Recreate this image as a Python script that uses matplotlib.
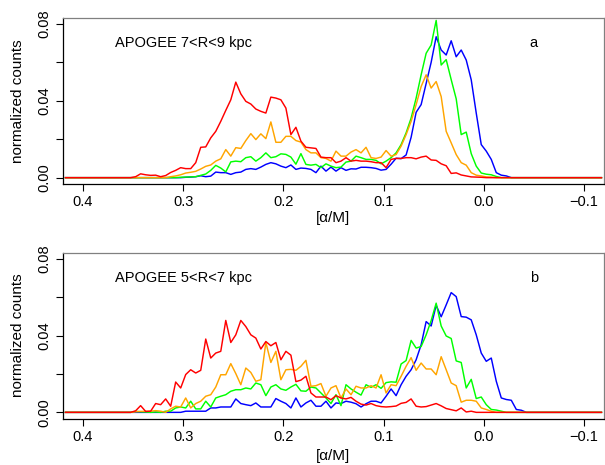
import numpy as np
import matplotlib
matplotlib.use("Agg")
import matplotlib.pyplot as plt

plt.rcParams['font.family'] = ['Liberation Sans', 'DejaVu Sans']

# bin centres of the [alpha/M] histograms, 0.005 wide
alpha = np.round(0.3975 - 0.005 * np.arange(-4, 104), 4)
first_bin = 14   # values below start at alpha = 0.3475

# ---- panel a : APOGEE 7<R<9 kpc
top_red = [0.0005, 0.0020, 0.0015, 0.0012, 0.0013, 0.0005, 0.0011, 0.0027, 0.0038, 0.0052,
           0.0047, 0.0047, 0.0078, 0.0158, 0.0160, 0.0207, 0.0241, 0.0293, 0.0350, 0.0405,
           0.0497, 0.0436, 0.0397, 0.0383, 0.0357, 0.0345, 0.0336, 0.0419, 0.0414, 0.0405,
           0.0362, 0.0224, 0.0262, 0.0190, 0.0158, 0.0155, 0.0152, 0.0107, 0.0104, 0.0104,
           0.0078, 0.0086, 0.0104, 0.0086, 0.0090, 0.0086, 0.0086, 0.0083, 0.0078, 0.0078,
           0.0052, 0.0095, 0.0100, 0.0100, 0.0104, 0.0104, 0.0098, 0.0107, 0.0112, 0.0092,
           0.0090, 0.0072, 0.0062, 0.0022, 0.0025, 0.0014, 0.0009, 0.0004, 0.0003, 0.0002,
           0, 0, 0, 0, 0, 0, 0, 0, 0, 0]
top_orange = [0, 0, 0, 0, 0, 0, 0, 0.0005, 0.0009, 0.0015,
              0.0024, 0.0028, 0.0033, 0.0045, 0.0059, 0.0066, 0.0086, 0.0098, 0.0146, 0.0112,
              0.0156, 0.0152, 0.0193, 0.0229, 0.0198, 0.0228, 0.0203, 0.0290, 0.0184, 0.0184,
              0.0215, 0.0215, 0.0193, 0.0185, 0.0146, 0.0129, 0.0129, 0.0104, 0.0100, 0.0086,
              0.0138, 0.0112, 0.0112, 0.0133, 0.0146, 0.0129, 0.0158, 0.0104, 0.0100, 0.0107,
              0.0141, 0.0112, 0.0120, 0.0164, 0.0224, 0.0293, 0.0380, 0.0474, 0.0535, 0.0466,
              0.0500, 0.0422, 0.0241, 0.0181, 0.0120, 0.0078, 0.0065, 0.0026, 0.0013, 0.0009,
              0.0004, 0.0003, 0, 0, 0, 0, 0, 0, 0, 0]
top_green = [0, 0, 0, 0, 0, 0, 0, 0, 0, 0.0002,
             0.0003, 0.0004, 0.0005, 0.0012, 0.0019, 0.0038, 0.0064, 0.0050, 0.0030, 0.0082,
             0.0086, 0.0083, 0.0104, 0.0109, 0.0086, 0.0104, 0.0129, 0.0104, 0.0109, 0.0124,
             0.0121, 0.0107, 0.0070, 0.0125, 0.0069, 0.0065, 0.0069, 0.0052, 0.0072, 0.0060,
             0.0052, 0.0055, 0.0081, 0.0086, 0.0112, 0.0104, 0.0095, 0.0095, 0.0090, 0.0072,
             0.0086, 0.0104, 0.0129, 0.0172, 0.0233, 0.0310, 0.0414, 0.0535, 0.0647, 0.0690,
             0.0818, 0.0586, 0.0614, 0.0510, 0.0410, 0.0224, 0.0237, 0.0125, 0.0060, 0.0024,
             0.0018, 0.0015, 0.0006, 0, 0, 0, 0, 0, 0, 0]
top_blue = [0, 0, 0, 0, 0, 0, 0, 0, 0, 0,
            0.0002, 0.0003, 0.0005, 0.0010, 0.0005, 0.0008, 0.0029, 0.0026, 0.0026, 0.0017,
            0.0026, 0.0029, 0.0043, 0.0047, 0.0043, 0.0055, 0.0069, 0.0078, 0.0072, 0.0060,
            0.0052, 0.0066, 0.0043, 0.0050, 0.0048, 0.0043, 0.0026, 0.0060, 0.0034, 0.0055,
            0.0034, 0.0052, 0.0038, 0.0046, 0.0045, 0.0054, 0.0054, 0.0052, 0.0048, 0.0039,
            0.0043, 0.0070, 0.0101, 0.0099, 0.0118, 0.0210, 0.0340, 0.0380, 0.0490, 0.0600,
            0.0733, 0.0664, 0.0638, 0.0712, 0.0629, 0.0664, 0.0612, 0.0509, 0.0336, 0.0172,
            0.0138, 0.0095, 0.0026, 0.0013, 0.0009, 0, 0, 0, 0, 0]

# ---- panel b : APOGEE 5<R<7 kpc
bot_red = [0.0008, 0.0035, 0.0005, 0.0006, 0.0046, 0.0040, 0.0070, 0.0032, 0.0158, 0.0127,
           0.0197, 0.0222, 0.0205, 0.0219, 0.0382, 0.0283, 0.0309, 0.0318, 0.0479, 0.0364,
           0.0404, 0.0479, 0.0447, 0.0404, 0.0387, 0.0330, 0.0369, 0.0347, 0.0364, 0.0274,
           0.0318, 0.0298, 0.0160, 0.0168, 0.0188, 0.0101, 0.0080, 0.0080, 0.0080, 0.0066,
           0.0087, 0.0075, 0.0070, 0.0078, 0.0058, 0.0043, 0.0038, 0.0046, 0.0035, 0.0030,
           0.0028, 0.0030, 0.0033, 0.0047, 0.0052, 0.0070, 0.0032, 0.0028, 0.0030, 0.0038,
           0.0046, 0.0034, 0.0020, 0.0014, 0.0008, 0.0023, 0.0002, 0.0006, 0, 0,
           0, 0, 0, 0, 0, 0, 0, 0, 0, 0]
bot_orange = [0.0003, 0.0005, 0.0005, 0.0006, 0.0009, 0.0006, 0, 0.0018, 0.0032, 0.0028,
              0.0075, 0.0023, 0.0046, 0.0058, 0.0084, 0.0092, 0.0132, 0.0196, 0.0196, 0.0254,
              0.0202, 0.0144, 0.0231, 0.0208, 0.0162, 0.0170, 0.0364, 0.0260, 0.0318, 0.0170,
              0.0222, 0.0224, 0.0219, 0.0240, 0.0271, 0.0136, 0.0139, 0.0150, 0.0084, 0.0127,
              0.0139, 0.0075, 0.0122, 0.0092, 0.0136, 0.0127, 0.0127, 0.0139, 0.0127, 0.0196,
              0.0101, 0.0144, 0.0139, 0.0188, 0.0240, 0.0285, 0.0219, 0.0257, 0.0226, 0.0226,
              0.0196, 0.0290, 0.0222, 0.0153, 0.0139, 0.0053, 0.0063, 0.0063, 0.0058, 0.0023,
              0.0015, 0.0006, 0, 0, 0, 0, 0, 0, 0, 0]
bot_green = [0.0005, 0.0003, 0.0002, 0, 0.0002, 0, 0.0006, 0.0006, 0.0023, 0.0028,
             0.0023, 0.0058, 0.0018, 0.0018, 0.0058, 0.0028, 0.0075, 0.0084, 0.0092, 0.0110,
             0.0118, 0.0118, 0.0127, 0.0122, 0.0153, 0.0144, 0.0087, 0.0132, 0.0144, 0.0122,
             0.0115, 0.0132, 0.0146, 0.0112, 0.0110, 0.0132, 0.0127, 0.0101, 0.0075, 0.0046,
             0.0092, 0.0035, 0.0144, 0.0122, 0.0105, 0.0090, 0.0144, 0.0130, 0.0144, 0.0125,
             0.0155, 0.0159, 0.0157, 0.0252, 0.0270, 0.0375, 0.0335, 0.0343, 0.0404, 0.0478,
             0.0569, 0.0450, 0.0398, 0.0385, 0.0268, 0.0260, 0.0127, 0.0172, 0.0072, 0.0080,
             0.0040, 0.0015, 0.0012, 0.0006, 0, 0, 0, 0, 0, 0]
bot_blue = [0, 0, 0, 0, 0, 0, 0, 0, 0, 0,
            0.0006, 0.0006, 0.0006, 0.0006, 0.0006, 0.0023, 0.0023, 0.0028, 0.0028, 0.0028,
            0.0070, 0.0046, 0.0040, 0.0035, 0.0049, 0.0028, 0.0028, 0.0028, 0.0072, 0.0058,
            0.0046, 0.0023, 0.0075, 0.0028, 0.0049, 0.0063, 0.0032, 0.0032, 0.0058, 0.0023,
            0.0049, 0.0046, 0.0058, 0.0053, 0.0045, 0.0028, 0.0045, 0.0058, 0.0058, 0.0049,
            0.0084, 0.0122, 0.0087, 0.0144, 0.0188, 0.0222, 0.0274, 0.0352, 0.0473, 0.0450,
            0.0558, 0.0498, 0.0560, 0.0624, 0.0603, 0.0499, 0.0496, 0.0482, 0.0404, 0.0309,
            0.0266, 0.0283, 0.0162, 0.0075, 0.0067, 0.0063, 0.0015, 0.0011, 0, 0]

titles = ["APOGEE 7<R<9 kpc", "APOGEE 5<R<7 kpc"]
letters = ["a", "b"]
xticks = [0.4, 0.3, 0.2, 0.1, 0.0, -0.1]
xticklabels = ["0.4", "0.3", "0.2", "0.1", "0.0", "\u22120.1"]
yticks = [0.0, 0.02, 0.04, 0.06, 0.08]
yticklabels = ["0.00", "", "0.04", "", "0.08"]


def full(vals):
    # histogram is empty outside the listed range
    v = np.zeros(len(alpha))
    v[first_bin:first_bin + len(vals)] = vals
    return v


panels = [
    [top_blue, top_green, top_orange, top_red],
    [bot_blue, bot_green, bot_orange, bot_red],
]
colors = ["#0000FF", "#00FF00", "#FFA500", "#FF0000"]

fig = plt.figure(figsize=(6.05, 4.65), dpi=100)
boxes = [[0.1041, 0.6047, 0.8942, 0.3572], [0.1041, 0.1000, 0.8942, 0.3566]]
xlabel_y = [-0.206, -0.225]   # bottom label sits right at the page edge

for i in range(2):
    ax = fig.add_axes(boxes[i])
    for vals, col in zip(panels[i], colors):
        ax.plot(alpha, full(vals), color=col, lw=1.05)

    ax.set_xlim(0.42, -0.12)
    ax.set_ylim(-0.0032, 0.0832)
    ax.set_xticks(xticks)
    ax.set_xticklabels(xticklabels, fontsize=10.5)
    ax.set_yticks(yticks)
    ax.set_yticklabels(yticklabels, fontsize=10.5, rotation=90, va='center')
    ax.tick_params(direction='out', length=4.7, width=0.8, pad=3.5, colors='black')
    for s in ['top', 'right']:
        ax.spines[s].set_color('#808080')
    for s in ax.spines.values():
        s.set_linewidth(0.9)

    ax.text(0.3, 0.07, titles[i], ha='center', va='center', fontsize=10.5)
    ax.text(-0.05, 0.07, letters[i], ha='center', va='center', fontsize=10.5)

    ax.set_ylabel("normalized counts", fontsize=11, va='center')
    ax.yaxis.set_label_coords(-0.083, 0.5)
    ax.set_xlabel("[\u03b1/M]", fontsize=11, va='center')
    ax.xaxis.set_label_coords(0.5, xlabel_y[i])

fig.savefig("out.png", dpi=100)
